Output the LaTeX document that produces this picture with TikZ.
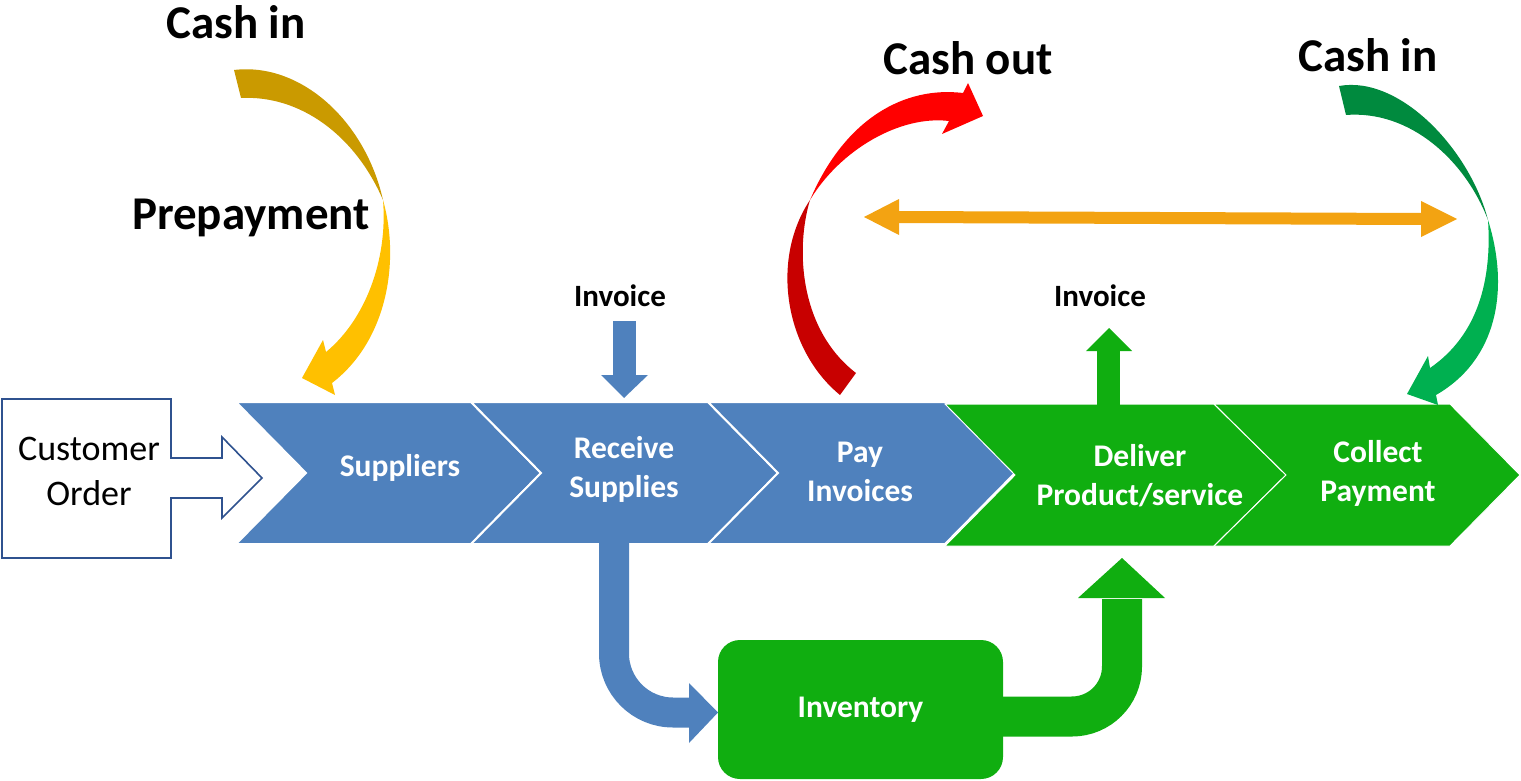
\documentclass[tikz,border=0pt]{standalone}
\usepackage{fontspec}
\setmainfont{Carlito}
\definecolor{bluec}{HTML}{4F81BD}
\definecolor{greenc}{HTML}{10AE10}
\definecolor{goldd}{HTML}{CA9A00}
\definecolor{goldl}{HTML}{FFC000}
\definecolor{redd}{HTML}{C80000}
\definecolor{redl}{HTML}{FF0000}
\definecolor{grnd}{HTML}{008A3E}
\definecolor{grnl}{HTML}{00B050}
\definecolor{orangec}{HTML}{F3A312}
\definecolor{outlinec}{HTML}{2F528F}
\begin{document}
\begin{tikzpicture}[x=1pt,y=-1pt,
  lbl/.style={inner sep=0pt, font=\bfseries\fontsize{31.5}{39}\selectfont, align=center, text=white},
  inv/.style={inner sep=0pt, font=\bfseries\fontsize{31}{36}\selectfont, text=black},
  big/.style={inner sep=0pt, font=\bfseries\fontsize{47}{51}\selectfont, text=black},
  bluechev/.style={fill=bluec, draw=white, line width=2pt, line join=miter},
  greenchev/.style={fill=greenc, draw=white, line width=1pt, line join=miter}]
\useasboundingbox (0,0) rectangle (1521,781);

% ---- chevrons
\path[bluechev] (236,402) -- (471,402) -- (541,473) -- (471,544) -- (236,544) -- (306,473) -- cycle;
\path[bluechev] (471,402) -- (708,402) -- (778,473) -- (708,544) -- (471,544) -- (541,473) -- cycle;
\path[bluechev] (708,402) -- (945,402) -- (1015,473) -- (945,544) -- (708,544) -- (778,473) -- cycle;
\path[greenchev] (945,404) -- (1214,404) -- (1286,475) -- (1214,546) -- (945,546) -- (1015,475) -- cycle;
\path[greenchev] (1214,404) -- (1450,404) -- (1520,475) -- (1450,546) -- (1214,546) -- (1286,475) -- cycle;

\node[lbl] (sup) at (400,468) {Suppliers};
\node[lbl] (rec) at (624,469) {Receive\\Supplies};
\node[lbl] (pay) at (860,472) {Pay\\Invoices};
\node[lbl] (del) at (1140,476) {Deliver\\Product/service};
\node[lbl] (col) at (1378,473) {Collect\\Payment};

% ---- customer order
\draw[outlinec, line width=1.6pt, fill=white] (2,399) -- (171,399) -- (171,458) -- (222,458) -- (222,437)
  -- (262,478) -- (222,518) -- (222,498) -- (171,498) -- (171,558) -- (2,558) -- cycle;
\node[inner sep=0pt, font=\fontsize{36}{45}\selectfont, align=center] (cust) at (89,471) {Customer\\Order};

% ---- inventory and bent arrows
\node[fill=greenc, rounded corners=22pt, minimum width=285pt, minimum height=139pt, inner sep=0pt,
  lbl] (invn) at (860.5,709.5) {Inventory};
\coordinate (rsB) at (614,540);
\coordinate (bHead) at (690,712.5);
\draw[bluec, line width=30pt, rounded corners=59pt] (rsB) |- (bHead);
\fill[bluec] (689,683) -- (718,712.5) -- (689,743) -- cycle;
\coordinate (gStart) at (1000,716.5);
\coordinate (gHead) at (1122,599);
\draw[greenc, line width=40pt, rounded corners=50pt] (gStart) -| (gHead);
\fill[greenc] (1078,598) -- (1122,558) -- (1165,598) -- cycle;

% ---- invoice arrows
\node[inv] (inv1) at (620,296) {Invoice};
\node[inv] (inv2) at (1100,296) {Invoice};
\coordinate (i1a) at (624,321);
\coordinate (i1b) at (624,376);
\draw[bluec, line width=23pt] (i1a) -- (i1b);
\fill[bluec] (601,375) -- (624,398) -- (648,375) -- cycle;
\coordinate (i2a) at (1108.5,405);
\coordinate (i2b) at (1108.5,350);
\draw[greenc, line width=23pt] (i2a) -- (i2b);
\fill[greenc] (1086,351) -- (1109,328) -- (1132,351) -- cycle;

% ---- orange double arrow
\coordinate (oL) at (898,217);
\coordinate (oR) at (1422,219);
\draw[orangec, line width=12pt] (oL) -- (oR);
\fill[orangec] (899,199) -- (864,217) -- (899,235) -- cycle;
\fill[orangec] (1421,201) -- (1457,219) -- (1421,237) -- cycle;

% ---- gold curved arrow
\fill[goldd] (234,70) .. controls (300,62) and (365,120) .. (383,200)
  .. controls (355,135) and (300,95) .. (241,98) -- cycle;
\fill[goldl] (383,200) .. controls (400,260) and (388,340) .. (332,383) -- (335,395) -- (302,378)
  -- (323,340) -- (326,352) .. controls (365,320) and (388,260) .. (383,200) -- cycle;

% ---- red curved arrow
\fill[redd] (840,395) .. controls (785,350) and (770,260) .. (810,200)
  .. controls (795,250) and (800,330) .. (856,373) -- cycle;
\fill[redl] (810,200) .. controls (845,118) and (905,86) .. (963,93) -- (968,83) -- (983,116)
  -- (942,134) -- (949,121) .. controls (900,115) and (840,150) .. (810,200) -- cycle;

% ---- green curved arrow
\fill[grnd] (1339,86) .. controls (1400,75) and (1470,150) .. (1488,220)
  .. controls (1465,160) and (1410,110) .. (1346,115) -- cycle;
\fill[grnl] (1488,220) .. controls (1510,290) and (1497,360) .. (1436,395) -- (1438,405) -- (1407,394)
  -- (1428,356) -- (1430,368) .. controls (1478,335) and (1492,280) .. (1488,220) -- cycle;

% ---- headings
\node[big] (ci1) at (236,22) {Cash in};
\node[big] (pre) at (251,218) {Prepayment};
\node[big] (co) at (968,58) {Cash out};
\node[big] (ci2) at (1368,55) {Cash in};
\end{tikzpicture}
\end{document}
